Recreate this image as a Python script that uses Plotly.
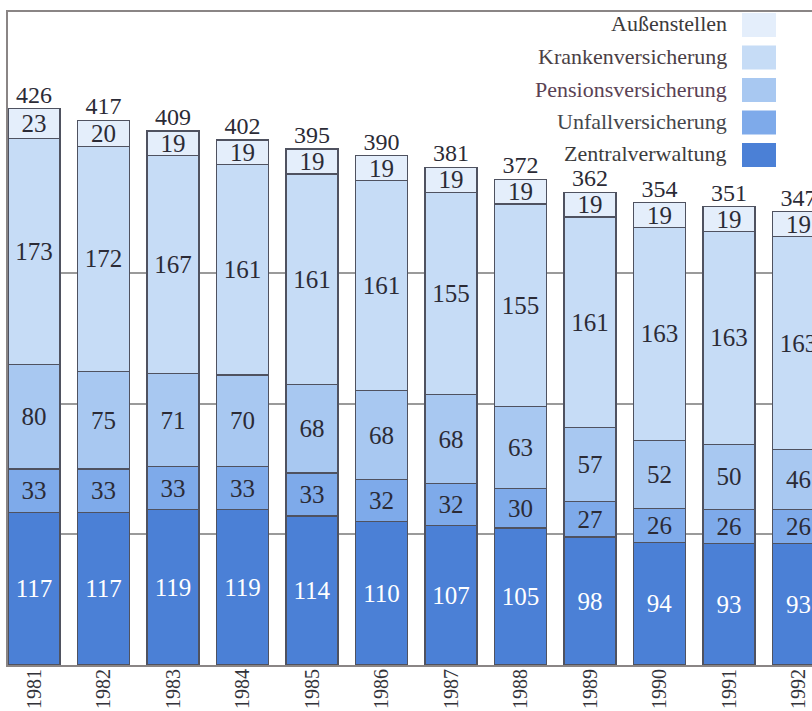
import plotly.graph_objects as go

# Personalstand nach Bereichen, 1981-1992
years = ["1981", "1982", "1983", "1984", "1985", "1986",
         "1987", "1988", "1989", "1990", "1991", "1992"]

zentralverwaltung = [117, 117, 119, 119, 114, 110, 107, 105, 98, 94, 93, 93]
unfallversicherung = [33, 33, 33, 33, 33, 32, 32, 30, 27, 26, 26, 26]
pensionsversicherung = [80, 75, 71, 70, 68, 68, 68, 63, 57, 52, 50, 46]
krankenversicherung = [173, 172, 167, 161, 161, 161, 155, 155, 161, 163, 163, 163]
aussenstellen = [23, 20, 19, 19, 19, 19, 19, 19, 19, 19, 19, 19]

totals = [426, 417, 409, 402, 395, 390, 381, 372, 362, 354, 351, 347]

SERIF = "Liberation Serif, Times New Roman, serif"
TEXT_DARK = "#2b2b36"
EDGE = "#4f5260"

series = [
    ("Zentralverwaltung", zentralverwaltung, "#4b80d6", "white"),
    ("Unfallversicherung", unfallversicherung, "#7eaaea", TEXT_DARK),
    ("Pensionsversicherung", pensionsversicherung, "#a8c8f1", TEXT_DARK),
    ("Krankenversicherung", krankenversicherung, "#c6dcf6", TEXT_DARK),
    ("Außenstellen", aussenstellen, "#e4eefb", TEXT_DARK),
]

fig = go.Figure()

for name, values, color, txtcolor in series:
    fig.add_trace(go.Bar(
        x=years, y=values, name=name,
        marker=dict(color=color, line=dict(color=EDGE, width=1.3)),
        text=[str(v) for v in values],
        textposition="inside", insidetextanchor="middle", textangle=0,
        textfont=dict(family=SERIF, size=25, color=txtcolor),
        hoverinfo="skip", showlegend=False,
    ))

# Gesamtsumme über jedem Balken
fig.add_trace(go.Scatter(
    x=years, y=totals, mode="text",
    text=[str(t) for t in totals], textposition="top center",
    textfont=dict(family=SERIF, size=24, color=TEXT_DARK),
    hoverinfo="skip", showlegend=False, cliponaxis=False,
))

W, H = 812, 711
ML, MR, MT, MB = 8, 0, 12, 46
PW, PH = W - ML - MR, H - MT - MB


def px_x(px):
    return (px - ML) / PW


def px_y(py):
    return (H - MB - py) / PH


# Legende rechts oben: Text rechtsbündig, Farbfeld rechts daneben
legend_order = ["Außenstellen", "Krankenversicherung", "Pensionsversicherung",
                "Unfallversicherung", "Zentralverwaltung"]
legend_colors = {name: color for name, _, color, _ in series}
legend_text_colors = {
    "Außenstellen": "#3c3a3c",
    "Krankenversicherung": "#4a4045",
    "Pensionsversicherung": "#5a4254",
    "Unfallversicherung": "#45474c",
    "Zentralverwaltung": "#3c3c3c",
}
shapes = []
annotations = []
for i, name in enumerate(legend_order):
    top = 13 + i * 32.5
    bottom = top + 24
    mid = (top + bottom) / 2
    shapes.append(dict(
        type="rect", xref="paper", yref="paper",
        x0=px_x(742), x1=px_x(776), y0=px_y(bottom), y1=px_y(top),
        fillcolor=legend_colors[name], line=dict(width=0), layer="above",
    ))
    annotations.append(dict(
        x=px_x(729), y=px_y(mid - 1), xref="paper", yref="paper",
        text=name, showarrow=False, xanchor="right", yanchor="middle",
        font=dict(family=SERIF, size=22, color=legend_text_colors[name]),
    ))

fig.update_layout(
    barmode="stack", bargap=0.25,
    width=W, height=H,
    margin=dict(l=ML, r=MR, t=MT, b=MB, pad=0, autoexpand=False),
    paper_bgcolor="white", plot_bgcolor="white",
    uniformtext=dict(minsize=23, mode="show"),
    shapes=shapes, annotations=annotations,
    xaxis=dict(
        type="category", range=[-0.375, -0.375 + PW / 69.5],
        showline=True, linecolor="#8a8585", linewidth=2, mirror=True,
        ticks="", tickangle=-90, automargin=False, ticklabelstandoff=-6,
        tickfont=dict(family=SERIF, size=20, color="#33333a"),
        showgrid=False, fixedrange=True,
    ),
    yaxis=dict(
        range=[0, 500], tickvals=[100, 200, 300], showticklabels=False,
        showgrid=True, gridcolor="#9a9a9a", gridwidth=1.5,
        showline=True, linecolor="#8a8585", linewidth=2, automargin=False,
        zeroline=False, ticks="", fixedrange=True,
    ),
    showlegend=False,
)

fig.write_html("out.html")
